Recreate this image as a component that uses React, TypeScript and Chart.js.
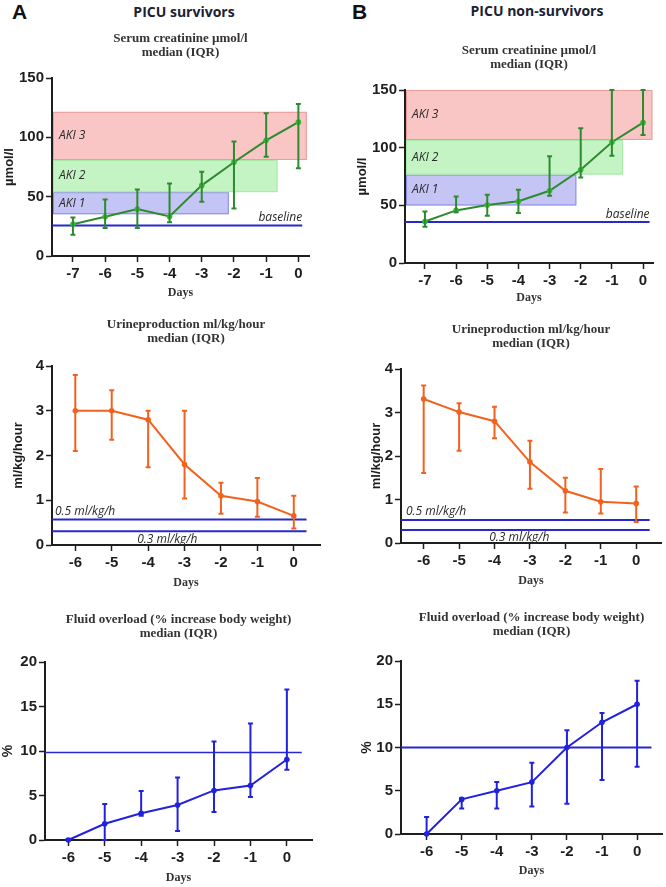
import React, { useEffect, useRef } from "react";
import { Chart, registerables } from "chart.js";
Chart.register(...registerables);

// ---------- data ----------
const creatDays = [-7, -6, -5, -4, -3, -2, -1, 0];
const creatXTicks = [-7, -6, -5, -4, -3, -2, -1, 0];
const creatYTicks = [0, 50, 100, 150];
const creatSurvMedian = [26.8, 33, 39.5, 33.3, 59.5, 79, 97.5, 112.8];
const creatSurvQ1 = [18, 23.7, 23.7, 28.5, 45.7, 40, 83.7, 73.9];
const creatSurvQ3 = [32.4, 47.6, 56, 61, 71, 96.4, 120.4, 128];
const creatNonMedian = [36, 45.6, 50.2, 53.6, 62.6, 80.8, 104.7, 121.7];
const creatNonQ1 = [31.4, 44.1, 41, 43.3, 58.3, 74.1, 92.9, 111];
const creatNonQ3 = [44.7, 57.7, 59.1, 63.5, 92.6, 116.8, 150, 150];

const akiLabels = ["AKI 1", "AKI 2", "AKI 3"];
const akiSurvLow = [35.2, 53.8, 80.9];
const akiSurvHigh = [53.8, 80.9, 121.5];
const akiSurvEnd = [-2.16, -0.65, 0.26];
const akiNonLow = [49.9, 76.7, 106.7];
const akiNonHigh = [76.7, 106.7, 150];
const akiNonEnd = [-2.14, -0.64, 0.3];
const baselineSurv = [25.7];
const baselineSurvEnd = [0.12];
const baselineNon = [35.5];
const baselineNonEnd = [0.21];

const otherDays = [-6, -5, -4, -3, -2, -1, 0];
const otherXTicks = [-6, -5, -4, -3, -2, -1, 0];
const urineYTicks = [0, 1, 2, 3, 4];
const urineSurvMedian = [3.0, 3.0, 2.8, 1.8, 1.1, 0.97, 0.65];
const urineSurvQ1 = [2.1, 2.35, 1.74, 1.04, 0.7, 0.63, 0.37];
const urineSurvQ3 = [3.8, 3.46, 3.0, 3.0, 1.39, 1.5, 1.1];
const urineNonMedian = [3.31, 3.01, 2.8, 1.86, 1.2, 0.95, 0.91];
const urineNonQ1 = [1.61, 2.12, 2.41, 1.25, 0.7, 0.68, 0.48];
const urineNonQ3 = [3.62, 3.21, 3.13, 2.35, 1.5, 1.7, 1.3];
const urineThreshLabels = ["0.5 ml/kg/h", "0.3 ml/kg/h"];
const urineSurvThresh = [0.57, 0.31];
const urineSurvThreshEnd = [0.35, 0.35];
const urineNonThresh = [0.53, 0.3];
const urineNonThreshEnd = [0.38, 0.38];

const fluidYTicks = [0, 5, 10, 15, 20];
const fluidSurvMedian = [0, 1.83, 3.0, 3.93, 5.57, 6.13, 9.05];
const fluidSurvQ1 = [0, 0, 2.73, 1.0, 3.14, 4.82, 7.89];
const fluidSurvQ3 = [0.1, 4.04, 5.5, 7.03, 11.07, 13.08, 16.9];
const fluidNonMedian = [0, 4.0, 5.0, 6.0, 10.0, 12.92, 15.0];
const fluidNonQ1 = [0, 2.96, 2.96, 3.19, 3.5, 6.23, 7.77];
const fluidNonQ3 = [1.96, 4.15, 6.0, 8.23, 12.0, 14.0, 17.73];
const fluidSurvThresh = [9.83];
const fluidSurvThreshEnd = [0.41];
const fluidNonThresh = [10];
const fluidNonThreshEnd = [0.41];

const creatTitle = ["Serum creatinine µmol/l", "median (IQR)"];
const urineTitle = ["Urineproduction ml/kg/hour", "median (IQR)"];
const fluidTitle = ["Fluid overload (% increase body weight)", "median (IQR)"];

// ---------- styles ----------
const GREEN = "#2e8a2e";
const GREEN_PT = "#34b834";
const ORANGE = "#f2621f";
const FLUID_BLUE = "#2222dd";
const REF_BLUE = "#2828cc";
const AXIS = "#1e1e1e";
const zoneFill = ["rgba(196,196,245,1)", "rgba(196,244,196,1)", "rgba(249,197,197,1)"];
const zoneBorder = ["#8a8ae6", "#a6e8a6", "#ec9a9a"];

type Zone = { low: number; high: number; end: number; fill: string; border: string; label: string };
type Note = { text: string; x: number; y: number; align: CanvasTextAlign; dy: number; dx: number };
type Ref = { y: number; end: number; width: number };
type PanelCfg = {
  key: string;
  L: number; R: number; T: number; B: number;
  canvasLeft: number; sub1Y: number; xTitleY: number; yTitleX: number;
  xMin: number; xMax: number; xTicks: number[]; yMax: number; yTicks: number[];
  subtitle: string[]; yTitle: string; yTitleSize: number;
  days: number[]; median: number[]; q1: number[]; q3: number[];
  color: string; pointColor: string;
  zones: Zone[]; refs: Ref[]; notes: Note[];
};

function buildZones(low: number[], high: number[], end: number[]): Zone[] {
  return low.map((l, i) => ({ low: l, high: high[i], end: end[i], fill: zoneFill[i], border: zoneBorder[i], label: akiLabels[i] }));
}
function buildRefs(ys: number[], ends: number[], width: number): Ref[] {
  return ys.map((y, i) => ({ y, end: ends[i], width }));
}

const panels: PanelCfg[] = [
  {
    key: "a1", L: 52, R: 309, T: 78, B: 256, canvasLeft: 0, sub1Y: 37.7, xTitleY: 293, yTitleX: 9,
    xMin: -7.65, xMax: 0.33, xTicks: creatXTicks, yMax: 150, yTicks: creatYTicks,
    subtitle: creatTitle, yTitle: "µmol/l", yTitleSize: 13,
    days: creatDays, median: creatSurvMedian, q1: creatSurvQ1, q3: creatSurvQ3, color: GREEN, pointColor: GREEN_PT,
    zones: buildZones(akiSurvLow, akiSurvHigh, akiSurvEnd),
    refs: buildRefs(baselineSurv, baselineSurvEnd, 2),
    notes: [{ text: "baseline", x: baselineSurvEnd[0], y: baselineSurv[0], align: "right", dy: -8, dx: 0 }],
  },
  {
    key: "b1", L: 405, R: 653, T: 90, B: 263, canvasLeft: 352, sub1Y: 50, xTitleY: 298, yTitleX: 362,
    xMin: -7.64, xMax: 0.32, xTicks: creatXTicks, yMax: 150, yTicks: creatYTicks,
    subtitle: creatTitle, yTitle: "µmol/l", yTitleSize: 13,
    days: creatDays, median: creatNonMedian, q1: creatNonQ1, q3: creatNonQ3, color: GREEN, pointColor: GREEN_PT,
    zones: buildZones(akiNonLow, akiNonHigh, akiNonEnd),
    refs: buildRefs(baselineNon, baselineNonEnd, 2),
    notes: [{ text: "baseline", x: baselineNonEnd[0], y: baselineNon[0], align: "right", dy: -7, dx: 0 }],
  },
  {
    key: "a2", L: 52, R: 320, T: 366, B: 545, canvasLeft: 0, sub1Y: 324.3, xTitleY: 583.3, yTitleX: 18,
    xMin: -6.64, xMax: 0.72, xTicks: otherXTicks, yMax: 4, yTicks: urineYTicks,
    subtitle: urineTitle, yTitle: "ml/kg/hour", yTitleSize: 13,
    days: otherDays, median: urineSurvMedian, q1: urineSurvQ1, q3: urineSurvQ3, color: ORANGE, pointColor: ORANGE,
    zones: [],
    refs: buildRefs(urineSurvThresh, urineSurvThreshEnd, 2),
    notes: [
      { text: urineThreshLabels[0], x: -6.64, y: urineSurvThresh[0], align: "left", dy: -8, dx: 3 },
      { text: urineThreshLabels[1], x: -4.3, y: urineSurvThresh[1], align: "left", dy: 8, dx: 0 },
    ],
  },
  {
    key: "b2", L: 401, R: 661, T: 369, B: 543, canvasLeft: 352, sub1Y: 329.3, xTitleY: 581, yTitleX: 376,
    xMin: -6.64, xMax: 0.7, xTicks: otherXTicks, yMax: 4, yTicks: urineYTicks,
    subtitle: urineTitle, yTitle: "ml/kg/hour", yTitleSize: 13,
    days: otherDays, median: urineNonMedian, q1: urineNonQ1, q3: urineNonQ3, color: ORANGE, pointColor: ORANGE,
    zones: [],
    refs: buildRefs(urineNonThresh, urineNonThreshEnd, 2),
    notes: [
      { text: urineThreshLabels[0], x: -6.64, y: urineNonThresh[0], align: "left", dy: -8, dx: 5 },
      { text: urineThreshLabels[1], x: -4.15, y: urineNonThresh[1], align: "left", dy: 8, dx: 0 },
    ],
  },
  {
    key: "a3", L: 45, R: 312, T: 662, B: 840, canvasLeft: 0, sub1Y: 619.3, xTitleY: 878.3, yTitleX: 7,
    xMin: -6.64, xMax: 0.69, xTicks: otherXTicks, yMax: 20, yTicks: fluidYTicks,
    subtitle: fluidTitle, yTitle: "%", yTitleSize: 14,
    days: otherDays, median: fluidSurvMedian, q1: fluidSurvQ1, q3: fluidSurvQ3, color: FLUID_BLUE, pointColor: FLUID_BLUE,
    zones: [],
    refs: buildRefs(fluidSurvThresh, fluidSurvThreshEnd, 1.5),
    notes: [],
  },
  {
    key: "b3", L: 401, R: 663, T: 661, B: 834, canvasLeft: 352, sub1Y: 616.7, xTitleY: 871, yTitleX: 367,
    xMin: -6.73, xMax: 0.71, xTicks: otherXTicks, yMax: 20, yTicks: fluidYTicks,
    subtitle: fluidTitle, yTitle: "%", yTitleSize: 14,
    days: otherDays, median: fluidNonMedian, q1: fluidNonQ1, q3: fluidNonQ3, color: FLUID_BLUE, pointColor: FLUID_BLUE,
    zones: [],
    refs: buildRefs(fluidNonThresh, fluidNonThreshEnd, 2),
    notes: [],
  },
];

const SUB_SIZE = 13;
const SUB_LH = 1.1;
const XT_SIZE = 12;

function Panel({ p }: { p: PanelCfg }) {
  const ref = useRef<HTMLCanvasElement | null>(null);
  const subLH = SUB_SIZE * SUB_LH;
  const canvasTop = Math.round(p.sub1Y - subLH / 2);
  const canvasBottom = Math.min(887, Math.round(p.xTitleY + 9));
  const canvasRight = Math.min(666, p.R + 4);
  const width = canvasRight - p.canvasLeft;
  const height = canvasBottom - canvasTop;
  const yw = p.L - p.canvasLeft;
  const xh = canvasBottom - p.B;
  const titlePadBottom = p.T - canvasTop - 2 * subLH;
  const xTitlePadBottom = canvasBottom - p.xTitleY - (XT_SIZE * 1.2) / 2;
  const yTitlePadTop = Math.max(0, p.yTitleX - p.canvasLeft - (p.yTitleSize * 1.2) / 2);

  useEffect(() => {
    if (!ref.current) return;
    const overlay = {
      id: "overlay" + p.key,
      beforeDatasetsDraw(chart: any) {
        const xs = chart.scales.x, ys = chart.scales.y, ctx = chart.ctx;
        ctx.save();
        for (const z of p.zones) {
          const x0 = xs.getPixelForValue(p.xMin) + 1;
          const x1 = xs.getPixelForValue(z.end);
          const y0 = ys.getPixelForValue(z.high);
          const y1 = ys.getPixelForValue(z.low);
          ctx.fillStyle = z.fill;
          ctx.fillRect(x0, y0, x1 - x0, y1 - y0);
          ctx.strokeStyle = z.border;
          ctx.lineWidth = 1;
          ctx.strokeRect(x0 + 0.5, y0 + 0.5, x1 - x0 - 1, y1 - y0 - 1);
        }
        ctx.font = "italic 12px 'Open Sans'";
        ctx.fillStyle = "#2a2a2a";
        ctx.textBaseline = "middle";
        for (const z of p.zones) {
          ctx.textAlign = "left";
          const x0 = xs.getPixelForValue(p.xMin);
          const yc = (ys.getPixelForValue(z.high) + ys.getPixelForValue(z.low)) / 2;
          ctx.fillText(z.label, x0 + 7, yc);
        }
        for (const n of p.notes) {
          ctx.textAlign = n.align;
          ctx.fillText(n.text, xs.getPixelForValue(n.x) + n.dx, ys.getPixelForValue(n.y) + n.dy);
        }
        ctx.restore();
      },
      afterDatasetsDraw(chart: any) {
        const xs = chart.scales.x, ys = chart.scales.y, ctx = chart.ctx;
        ctx.save();
        ctx.strokeStyle = p.color;
        ctx.lineWidth = 2;
        for (let i = 0; i < p.days.length; i++) {
          const px = xs.getPixelForValue(p.days[i]);
          const pl = ys.getPixelForValue(p.q1[i]);
          const ph = ys.getPixelForValue(p.q3[i]);
          ctx.beginPath();
          ctx.moveTo(px, pl);
          ctx.lineTo(px, ph);
          ctx.moveTo(px - 2.5, pl);
          ctx.lineTo(px + 2.5, pl);
          ctx.moveTo(px - 2.5, ph);
          ctx.lineTo(px + 2.5, ph);
          ctx.stroke();
        }
        ctx.restore();
      },
    };

    const datasets: any[] = [
      {
        label: "median",
        data: p.days.map((d, i) => ({ x: d, y: p.median[i] })),
        borderColor: p.color,
        backgroundColor: p.pointColor,
        pointBackgroundColor: p.pointColor,
        pointBorderWidth: 0,
        pointRadius: 2.8,
        borderWidth: 2,
        tension: 0,
        clip: false,
      },
      ...p.refs.map((r) => ({
        label: "ref",
        data: [{ x: p.xMin, y: r.y }, { x: r.end, y: r.y }],
        borderColor: REF_BLUE,
        borderWidth: r.width,
        pointRadius: 0,
        tension: 0,
        clip: false,
      })),
    ];

    const chart = new Chart(ref.current, {
      type: "line",
      data: { datasets },
      plugins: [overlay],
      options: {
        animation: false,
        responsive: false,
        maintainAspectRatio: false,
        events: [],
        layout: { padding: { left: 0, top: 0, bottom: 0, right: canvasRight - p.R } },
        plugins: {
          legend: { display: false },
          tooltip: { enabled: false },
          title: {
            display: true,
            text: p.subtitle,
            fullSize: false,
            color: "#333333",
            font: { family: "'Liberation Serif', serif", size: SUB_SIZE, weight: "bold", lineHeight: SUB_LH },
            padding: { top: 0, bottom: titlePadBottom },
          },
        },
        scales: {
          x: {
            type: "linear",
            min: p.xMin,
            max: p.xMax,
            afterBuildTicks: (s: any) => { s.ticks = p.xTicks.map((v) => ({ value: v })); },
            afterFit: (s: any) => { s.height = xh; },
            ticks: {
              color: AXIS,
              padding: 3,
              font: { family: "'Liberation Sans', Arial, sans-serif", size: 15, weight: "bold" },
              callback: (v: any) => String(v),
              maxRotation: 0,
              autoSkip: false,
            },
            grid: { display: true, drawOnChartArea: false, drawTicks: true, tickLength: 6, tickColor: AXIS, tickWidth: 1.5, color: AXIS },
            border: { display: true, color: AXIS, width: 2 },
            title: {
              display: true,
              text: "Days",
              color: "#333333",
              font: { family: "'Liberation Serif', serif", size: XT_SIZE, weight: "bold" },
              padding: { top: 0, bottom: xTitlePadBottom },
            },
          },
          y: {
            type: "linear",
            min: 0,
            max: p.yMax,
            afterBuildTicks: (s: any) => { s.ticks = p.yTicks.map((v) => ({ value: v })); },
            afterFit: (s: any) => { s.width = yw; },
            ticks: {
              color: AXIS,
              padding: 2,
              font: { family: "'Liberation Sans', Arial, sans-serif", size: 15, weight: "bold" },
              callback: (v: any) => String(v),
            },
            grid: { display: true, drawOnChartArea: false, drawTicks: true, tickLength: 6, tickColor: AXIS, tickWidth: 1.5, color: AXIS },
            border: { display: true, color: AXIS, width: 2 },
            title: {
              display: true,
              text: p.yTitle,
              color: AXIS,
              font: { family: "'Liberation Sans', Arial, sans-serif", size: p.yTitleSize, weight: "bold" },
              padding: { top: yTitlePadTop, bottom: 0 },
            },
          },
        },
      } as any,
    });
    return () => chart.destroy();
  }, []);

  return (
    <canvas
      ref={ref}
      width={width}
      height={height}
      style={{ position: "absolute", left: p.canvasLeft, top: canvasTop, width, height }}
    />
  );
}

function Label({ text, x, y, style }: { text: string; x: number; y: number; style: React.CSSProperties }) {
  return (
    <div
      style={{
        position: "absolute",
        left: x,
        top: y,
        transform: "translate(-50%, -50%)",
        whiteSpace: "nowrap",
        lineHeight: 1,
        ...style,
      }}
    >
      {text}
    </div>
  );
}

const letterStyle: React.CSSProperties = { fontFamily: "'Liberation Sans', Arial, sans-serif", fontWeight: "bold", fontSize: 21, color: "#111" };
const headStyle: React.CSSProperties = { fontFamily: "'Open Sans', sans-serif", fontWeight: "bold", fontSize: 14, color: "#1b2235" };

export default function App() {
  return (
    <div style={{ position: "absolute", left: 0, top: 0, width: 666, height: 887, background: "#ffffff", overflow: "hidden" }}>
      <Label text="A" x={19.7} y={11} style={letterStyle} />
      <Label text="PICU survivors" x={184} y={12} style={headStyle} />
      <Label text="B" x={359.5} y={11} style={letterStyle} />
      <Label text="PICU non-survivors" x={537} y={10.5} style={headStyle} />
      {panels.map((p) => (
        <Panel key={p.key} p={p} />
      ))}
    </div>
  );
}
